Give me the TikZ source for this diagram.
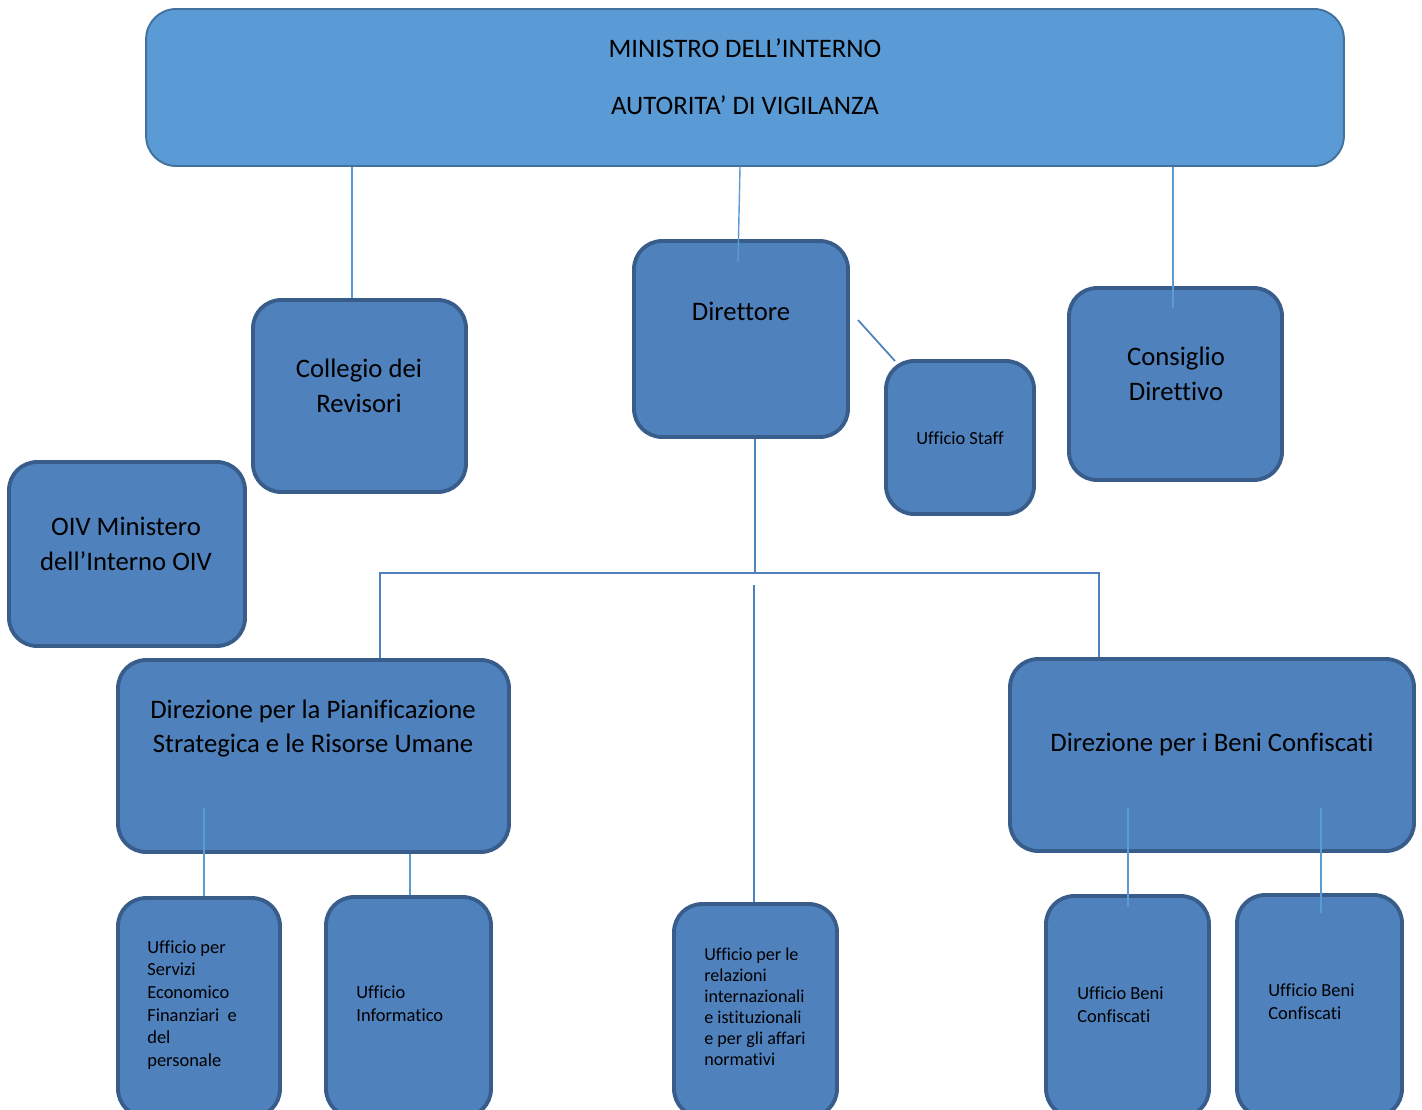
\documentclass[tikz,border=0pt]{standalone}
\usepackage{fontspec}
\setmainfont{Carlito}[Ligatures=NoCommon]
\definecolor{unitfill}{HTML}{4F81BD}
\definecolor{unitline}{HTML}{385D8A}
\definecolor{topfill}{HTML}{5B9BD5}
\definecolor{topline}{HTML}{41719C}
\definecolor{linklight}{HTML}{5B9BD5}
\tikzset{unit/.style={draw=unitline,fill=unitfill,line width=2.2pt,rounded corners=0.56cm,inner sep=0pt},
 topunit/.style={draw=topline,fill=topfill,line width=1.1pt,rounded corners=0.6cm,inner sep=0pt},
 bigtext/.style={font=\fontsize{15.2}{19.9}\selectfont,align=center,inner sep=0pt},
 smalltext/.style={font=\fontsize{10.5}{12.9}\selectfont,align=left,inner sep=0pt,anchor=west},
 link/.style={draw=linklight,line width=0.8pt},
 trunk/.style={draw=unitfill,line width=1pt},
 }

\begin{document}
\begin{tikzpicture}[x=0.02cm,y=-0.02cm]
        \path[use as bounding box,clip] (0,0) rectangle (1422,1109);
        % boxes
        \node[topunit,minimum width=23.96cm,minimum height=3.14cm] (top) at (745,87.5) {};
        \node[unit,minimum width=4.26cm,minimum height=3.84cm] (col) at (359.5,396) {};
        \node[unit,minimum width=4.28cm,minimum height=3.92cm] (dir) at (741,339) {};
        \node[unit,minimum width=2.96cm,minimum height=3.06cm] (staff) at (960,437.5) {};
        \node[unit,minimum width=4.26cm,minimum height=3.84cm] (cons) at (1175.5,384) {};
        \node[unit,minimum width=4.72cm,minimum height=3.68cm] (oiv) at (127,554) {};
        \node[unit,minimum width=7.82cm,minimum height=3.84cm] (dpian) at (313.5,756) {};
        \node[unit,minimum width=8.08cm,minimum height=3.84cm] (dbeni) at (1212,755) {};
        \node[unit,minimum width=3.24cm,minimum height=4.38cm] (usef) at (199,1007.5) {};
        \node[unit,minimum width=3.30cm,minimum height=4.40cm] (uinf) at (408.5,1007) {};
        \node[unit,minimum width=3.26cm,minimum height=4.26cm] (urel) at (755.5,1010.5) {};
        \node[unit,minimum width=3.26cm,minimum height=4.42cm] (ubc1) at (1127.5,1006.5) {};
        \node[unit,minimum width=3.30cm,minimum height=4.44cm] (ubc2) at (1319.5,1006) {};
        % texts
        \node[inner sep=0pt,align=center,font=\fontsize{15.2}{32.3}\selectfont] (top-t) at (745,76.5)
            {MINISTRO DELL’INTERNO\\AUTORITA’ DI VIGILANZA};
        \node[bigtext] (col-t) at (359,385.5) {Collegio dei\\Revisori};
        \node[bigtext] (dir-t) at (741,311) {Direttore};
        \node[smalltext,anchor=center] (staff-t) at (960,438) {Ufficio Staff};
        \node[bigtext] (cons-t) at (1176,373.5) {Consiglio\\Direttivo};
        \node[bigtext] (oiv-t) at (126,543.5) {OIV Ministero\\dell’Interno OIV};
        \node[bigtext] (dpian-t) at (313,728.5) {Direzione per la Pianificazione\\Strategica e le Risorse Umane};
        \node[bigtext] (dbeni-t) at (1212,744) {Direzione per i Beni Confiscati};
        \node[smalltext] (usef-t) at (147,1005) {Ufficio per\\Servizi\\Economico\\Finanziari~ e\\del\\personale};
        \node[smalltext] (uinf-t) at (356,1003.5) {Ufficio\\Informatico};
        \node[smalltext,font=\fontsize{10.3}{12.0}\selectfont] (urel-t) at (704,1007) {Ufficio per le\\relazioni\\internazionali\\e istituzionali\\e per gli affari\\normativi};
        \node[smalltext] (ubc1-t) at (1077,1004.5) {Ufficio Beni\\Confiscati};
        \node[smalltext] (ubc2-t) at (1268,1001.5) {Ufficio Beni\\Confiscati};
        % connectors
        \coordinate (dir-in) at (738,262);
        \coordinate (cons-in) at (1173,308);
        \coordinate (dir-out) at (858,320);
        \coordinate (hub) at (755,573);
        \coordinate (rel-top) at (754,585);
        \coordinate (sef-top) at (204,808);
        \coordinate (bc1-top) at (1128,808);
        \coordinate (bc1-end) at (1128,907);
        \coordinate (bc2-top) at (1321,808);
        \coordinate (bc2-end) at (1321,913);
        \draw[link] (top.south -| 352,0) -- (col.north -| 352,0);
        \draw[link] (top.south -| 740,0) -- (dir-in);
        \draw[link] (top.south -| cons-in) -- (cons-in);
        \draw[trunk] (dir-out) -- ([xshift=0.22cm,yshift=-0.04cm]staff.north west);
        \draw[trunk] (dir.south -| hub) -- (hub);
        \draw[trunk] (dpian.north -| 380,0) |- (hub) -| (dbeni.north -| 1099,0);
        \draw[trunk] (rel-top) -- (urel.north -| rel-top);
        \draw[link] (sef-top) -- (usef.north -| sef-top);
        \draw[link] (dpian.south -| 410,0) -- (uinf.north -| 410,0);
        \draw[link] (bc1-top) -- (bc1-end);
        \draw[link] (bc2-top) -- (bc2-end);
\end{tikzpicture}
\end{document}
